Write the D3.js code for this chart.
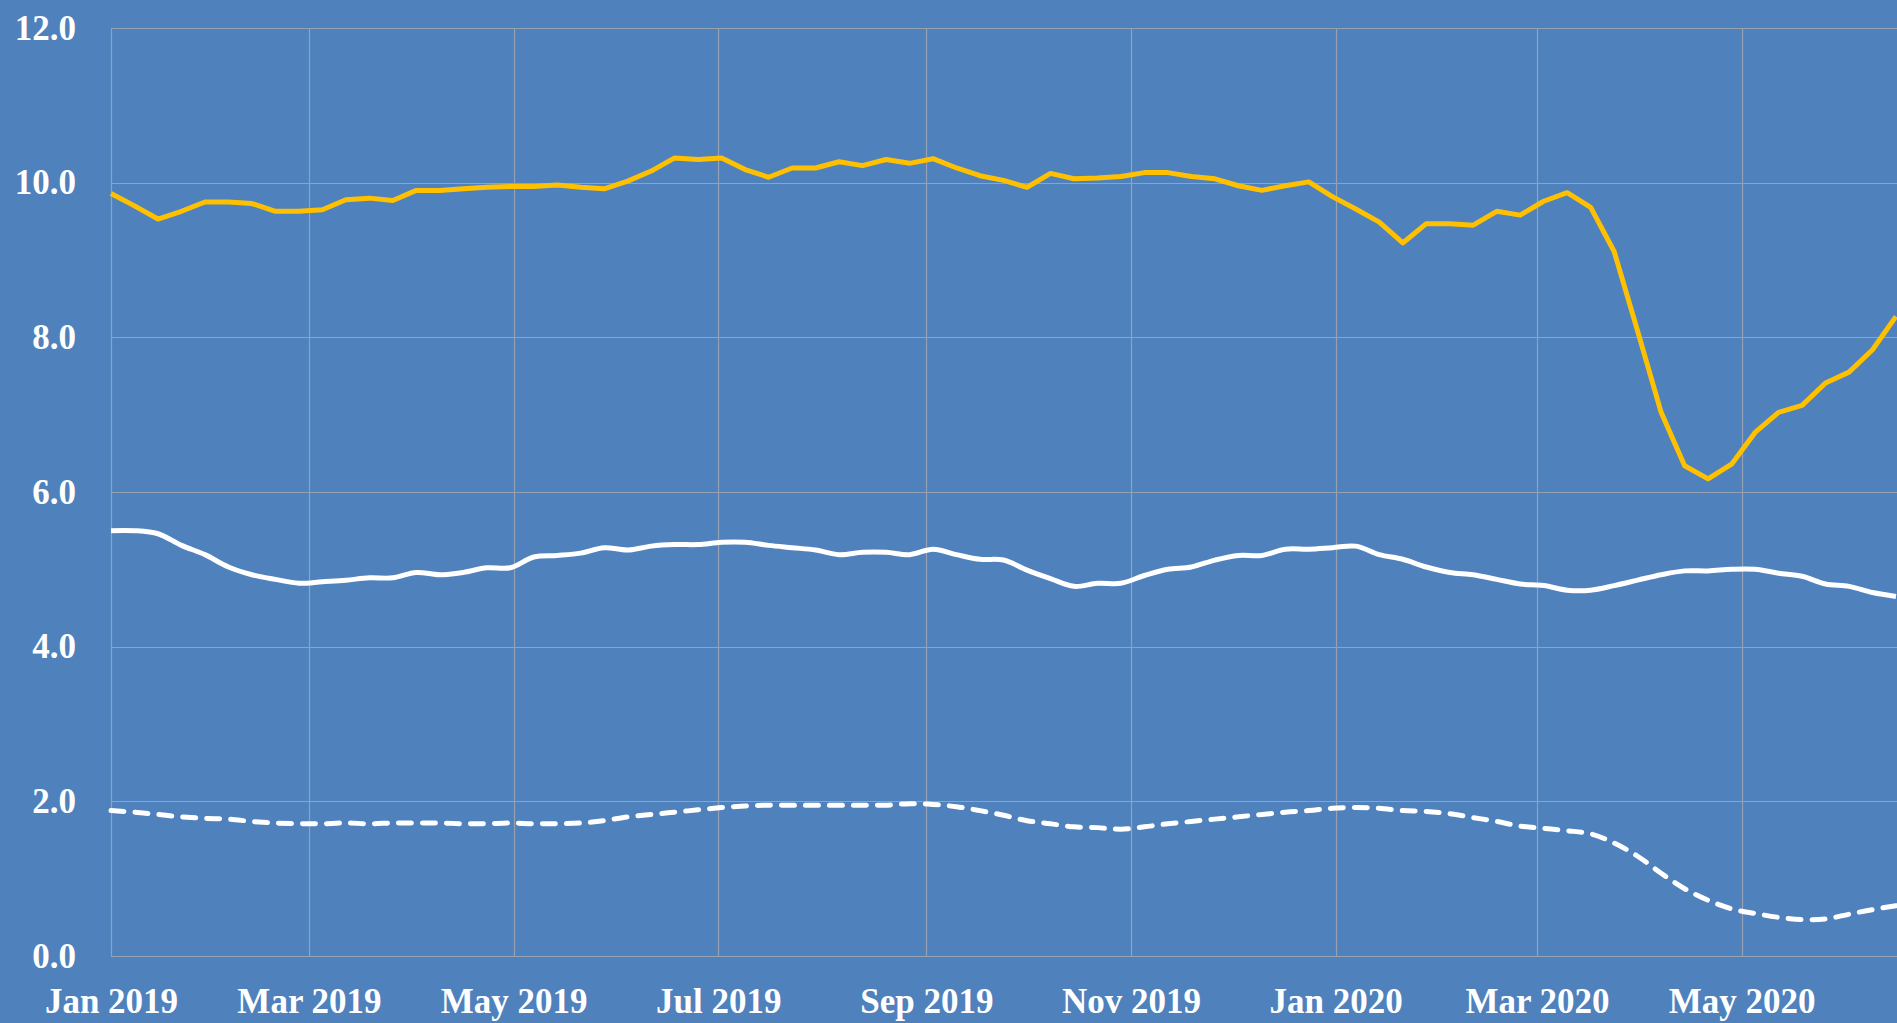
<!DOCTYPE html>
<html lang="en">

<head>
    <meta charset="UTF-8" />
    <title>Weekly series 2019-2020</title>

    <script src="https://d3js.org/d3.v7.min.js"></script>

    <style>
        body {
            margin: 0;
            background: #4F81BD;
        }

        .tick text {
            font-family: "Liberation Serif", "DejaVu Serif", serif;
            font-weight: bold;
            fill: #ffffff;
        }
    </style>
</head>

<body>

    <script>

        // weekly observations, first week starting 1 Jan 2019
        var startDate = new Date(Date.UTC(2019, 0, 1));
        var weekCount = 77;

        var yellowSeries = [
            9.86, 9.70, 9.53, 9.63, 9.75, 9.75, 9.73, 9.63, 9.63, 9.65,
            9.78, 9.80, 9.77, 9.90, 9.90, 9.92, 9.94, 9.95, 9.95, 9.97,
            9.94, 9.92, 10.02, 10.15, 10.32, 10.30, 10.32, 10.17, 10.07, 10.19,
            10.19, 10.27, 10.22, 10.30, 10.25, 10.31, 10.19, 10.09, 10.03, 9.94,
            10.12, 10.05, 10.06, 10.08, 10.13, 10.13, 10.08, 10.05, 9.96, 9.90,
            9.96, 10.01, 9.82, 9.66, 9.49, 9.22, 9.47, 9.47, 9.45, 9.63,
            9.58, 9.76, 9.87, 9.68, 9.11, 8.08, 7.03, 6.34, 6.17, 6.36,
            6.77, 7.03, 7.12, 7.41, 7.55, 7.84, 8.27
        ];

        var whiteSeries = [
            5.50, 5.50, 5.46, 5.31, 5.19, 5.03, 4.93, 4.87, 4.82, 4.84,
            4.86, 4.89, 4.89, 4.96, 4.93, 4.96, 5.02, 5.02, 5.16, 5.18,
            5.21, 5.28, 5.25, 5.30, 5.32, 5.32, 5.35, 5.35, 5.31, 5.28,
            5.25, 5.19, 5.22, 5.22, 5.19, 5.26, 5.19, 5.13, 5.12, 4.99,
            4.88, 4.78, 4.82, 4.82, 4.92, 5.00, 5.03, 5.12, 5.18, 5.18,
            5.26, 5.26, 5.28, 5.30, 5.19, 5.13, 5.03, 4.96, 4.93, 4.87,
            4.81, 4.79, 4.73, 4.73, 4.79, 4.86, 4.93, 4.98, 4.98, 5.00,
            5.00, 4.95, 4.91, 4.81, 4.78, 4.70, 4.65
        ];

        var dashedSeries = [
            1.88, 1.86, 1.83, 1.80, 1.78, 1.77, 1.74, 1.72, 1.71, 1.71,
            1.72, 1.71, 1.72, 1.72, 1.72, 1.71, 1.71, 1.72, 1.71, 1.71,
            1.72, 1.75, 1.80, 1.83, 1.86, 1.89, 1.92, 1.94, 1.95, 1.95,
            1.95, 1.95, 1.95, 1.95, 1.97, 1.96, 1.93, 1.88, 1.82, 1.75,
            1.71, 1.67, 1.66, 1.64, 1.67, 1.71, 1.74, 1.77, 1.80, 1.83,
            1.86, 1.88, 1.91, 1.92, 1.91, 1.88, 1.87, 1.84, 1.79, 1.74,
            1.68, 1.65, 1.62, 1.58, 1.46, 1.29, 1.07, 0.87, 0.72, 0.61,
            0.55, 0.50, 0.47, 0.48, 0.54, 0.60, 0.65
        ];

        var yTicks = [0, 2, 4, 6, 8, 10, 12];
        var xTickDates = [
            "2019-01-01", "2019-03-01", "2019-05-01", "2019-07-01", "2019-09-01",
            "2019-11-01", "2020-01-01", "2020-03-01", "2020-05-01"
        ];

        var weeks = d3.range(weekCount).map(function (i) {
            return d3.utcDay.offset(startDate, i * 7);
        });

        // dimensions (window.top is reserved, so use plot* names)
        var w = 1897;
        var h = 1023;
        var plotLeft = 111, plotTop = 28, plotBottom = 956, plotRight = 1896;

        var svg = d3.select("body")
            .append("svg")
            .attr("width", w)
            .attr("height", h);

        svg.append("rect")
            .attr("width", w)
            .attr("height", h)
            .attr("fill", "#4F81BD");

        var xScale = d3.scaleUtc()
            .domain([weeks[0], weeks[weeks.length - 1]])
            .range([plotLeft, plotRight]);

        var yScale = d3.scaleLinear()
            .domain([0, 12])
            .range([plotBottom, plotTop]);

        var gridColor = "#96A2B4";

        // horizontal gridlines
        svg.append("g")
            .selectAll("line")
            .data(yTicks)
            .enter()
            .append("line")
            .attr("x1", plotLeft)
            .attr("x2", w)
            .attr("y1", function (d) { return Math.round(yScale(d)) + 0.5; })
            .attr("y2", function (d) { return Math.round(yScale(d)) + 0.5; })
            .attr("stroke", gridColor)
            .attr("stroke-width", 1.2);

        // vertical gridlines
        var tickDates = xTickDates.map(function (s) { return d3.utcParse("%Y-%m-%d")(s); });
        svg.append("g")
            .selectAll("line")
            .data(tickDates)
            .enter()
            .append("line")
            .attr("x1", function (d) { return Math.round(xScale(d)) + 0.5; })
            .attr("x2", function (d) { return Math.round(xScale(d)) + 0.5; })
            .attr("y1", plotTop)
            .attr("y2", plotBottom)
            .attr("stroke", gridColor)
            .attr("stroke-width", 1.2);

        // Y axis
        var yAxis = svg.append("g")
            .attr("transform", "translate(76,0)")
            .call(d3.axisLeft(yScale)
                .tickValues(yTicks)
                .tickFormat(d3.format(".1f"))
                .tickSize(0)
                .tickPadding(0));
        yAxis.select(".domain").remove();
        yAxis.selectAll("text").style("font-size", "35px");

        // X axis
        var xAxis = svg.append("g")
            .attr("transform", "translate(0," + plotBottom + ")")
            .call(d3.axisBottom(xScale)
                .tickValues(tickDates)
                .tickFormat(d3.utcFormat("%b %Y"))
                .tickSize(0)
                .tickPadding(32));
        xAxis.select(".domain").remove();
        xAxis.selectAll("text").style("font-size", "35px");

        // yellow line (straight segments)
        svg.append("path")
            .datum(yellowSeries)
            .attr("fill", "none")
            .attr("stroke", "#FFC000")
            .attr("stroke-width", 5)
            .attr("stroke-linejoin", "round")
            .attr("d", d3.line()
                .x(function (d, i) { return xScale(weeks[i]); })
                .y(function (d) { return yScale(d); })
            );

        // white solid line (smoothed)
        svg.append("path")
            .datum(whiteSeries)
            .attr("fill", "none")
            .attr("stroke", "#ffffff")
            .attr("stroke-width", 5)
            .attr("stroke-linejoin", "round")
            .attr("d", d3.line()
                .curve(d3.curveCatmullRom)
                .x(function (d, i) { return xScale(weeks[i]); })
                .y(function (d) { return yScale(d); })
            );

        // white dashed line (smoothed)
        svg.append("path")
            .datum(dashedSeries)
            .attr("fill", "none")
            .attr("stroke", "#ffffff")
            .attr("stroke-width", 5)
            .attr("stroke-linecap", "round")
            .attr("stroke-dasharray", "13,11")
            .attr("d", d3.line()
                .curve(d3.curveCatmullRom)
                .x(function (d, i) { return xScale(weeks[i]); })
                .y(function (d) { return yScale(d); })
            );

    </script>

</body>

</html>
